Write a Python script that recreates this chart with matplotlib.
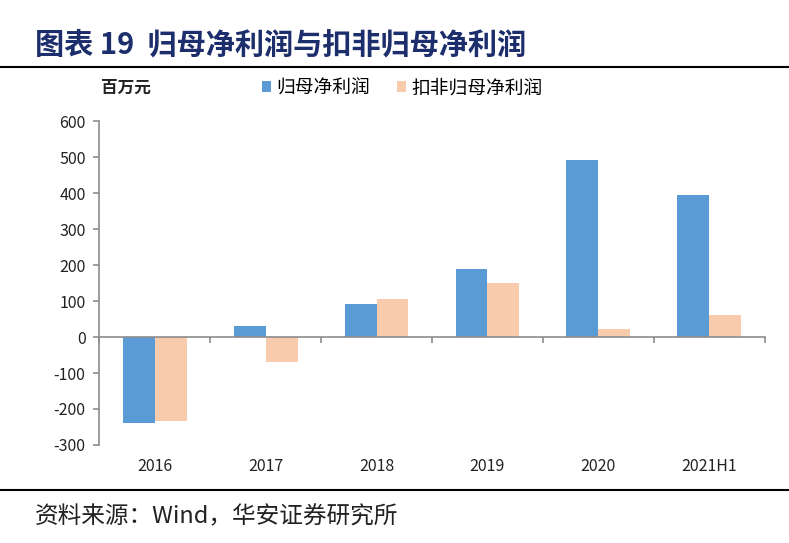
import matplotlib.pyplot as plt
from matplotlib.lines import Line2D
import numpy as np

plt.rcParams['font.family'] = ['Noto Sans CJK SC', 'DejaVu Sans']

# data (百万元)
categories = ['2016', '2017', '2018', '2019', '2020', '2021H1']
net_profit = [-240, 30, 91, 188, 493, 396]
net_profit_deducted = [-233, -70, 105, 149, 21, 61]
series_names = ['归母净利润', '扣非归母净利润']
y_ticks = [-300, -200, -100, 0, 100, 200, 300, 400, 500, 600]

blue = '#5B9BD5'
peach = '#F8CBAD'
grey = '#8C8C8C'

fig = plt.figure(figsize=(7.89, 5.43), dpi=100)
ax = fig.add_axes([0.126, 0.1805, 0.843, 0.5965])

x = np.arange(len(categories))
w = 0.287
ax.bar(x - w / 2, net_profit, w, color=blue, label=series_names[0])
ax.bar(x + w / 2, net_profit_deducted, w, color=peach, label=series_names[1])

ax.set_xlim(-0.5, len(categories) - 0.5)
ax.set_ylim(-300, 600)
ax.set_yticks(y_ticks)
ax.set_yticklabels([str(v) for v in y_ticks], fontsize=11.5, color='#222222')

# x axis sits on the zero line, ticks at category boundaries
ax.spines['bottom'].set_position(('data', 0))
ax.set_xticks(np.arange(-0.5, len(categories), 1.0))
ax.set_xticklabels([])
for s in ['top', 'right']:
    ax.spines[s].set_visible(False)
for s in ['left', 'bottom']:
    ax.spines[s].set_color(grey)
    ax.spines[s].set_linewidth(1.2)
ax.tick_params(axis='both', direction='out', length=4, color=grey, width=1.2)
ax.tick_params(axis='y', pad=6)

for i, c in enumerate(categories):
    ax.text(i, -0.065, c, transform=ax.get_xaxis_transform(),
            ha='center', va='center', fontsize=11.5, color='#222222')

# header, unit and legend
fig.text(0.044, 0.918, '图表 19  归母净利润与扣非归母净利润', fontsize=21,
         fontweight='bold', color='#1C2E6B', ha='left', va='center')
fig.add_artist(Line2D([0, 1], [0.877, 0.877], color='black', lw=1.5))
fig.text(0.16, 0.838, '百万元', fontsize=12, fontweight='bold',
         color='#222222', ha='center', va='center')
fig.legend(loc='center', bbox_to_anchor=(0.51, 0.838), ncol=2, frameon=False,
           fontsize=13.5, handlelength=0.5, handleheight=0.5, handletextpad=0.3,
           columnspacing=1.4)

# footer
fig.add_artist(Line2D([0, 1], [0.098, 0.098], color='black', lw=1.5))
fig.text(0.044, 0.048, '资料来源：Wind，华安证券研究所', fontsize=17,
         color='#222222', ha='left', va='center')

fig.savefig('out.png', dpi=100)
